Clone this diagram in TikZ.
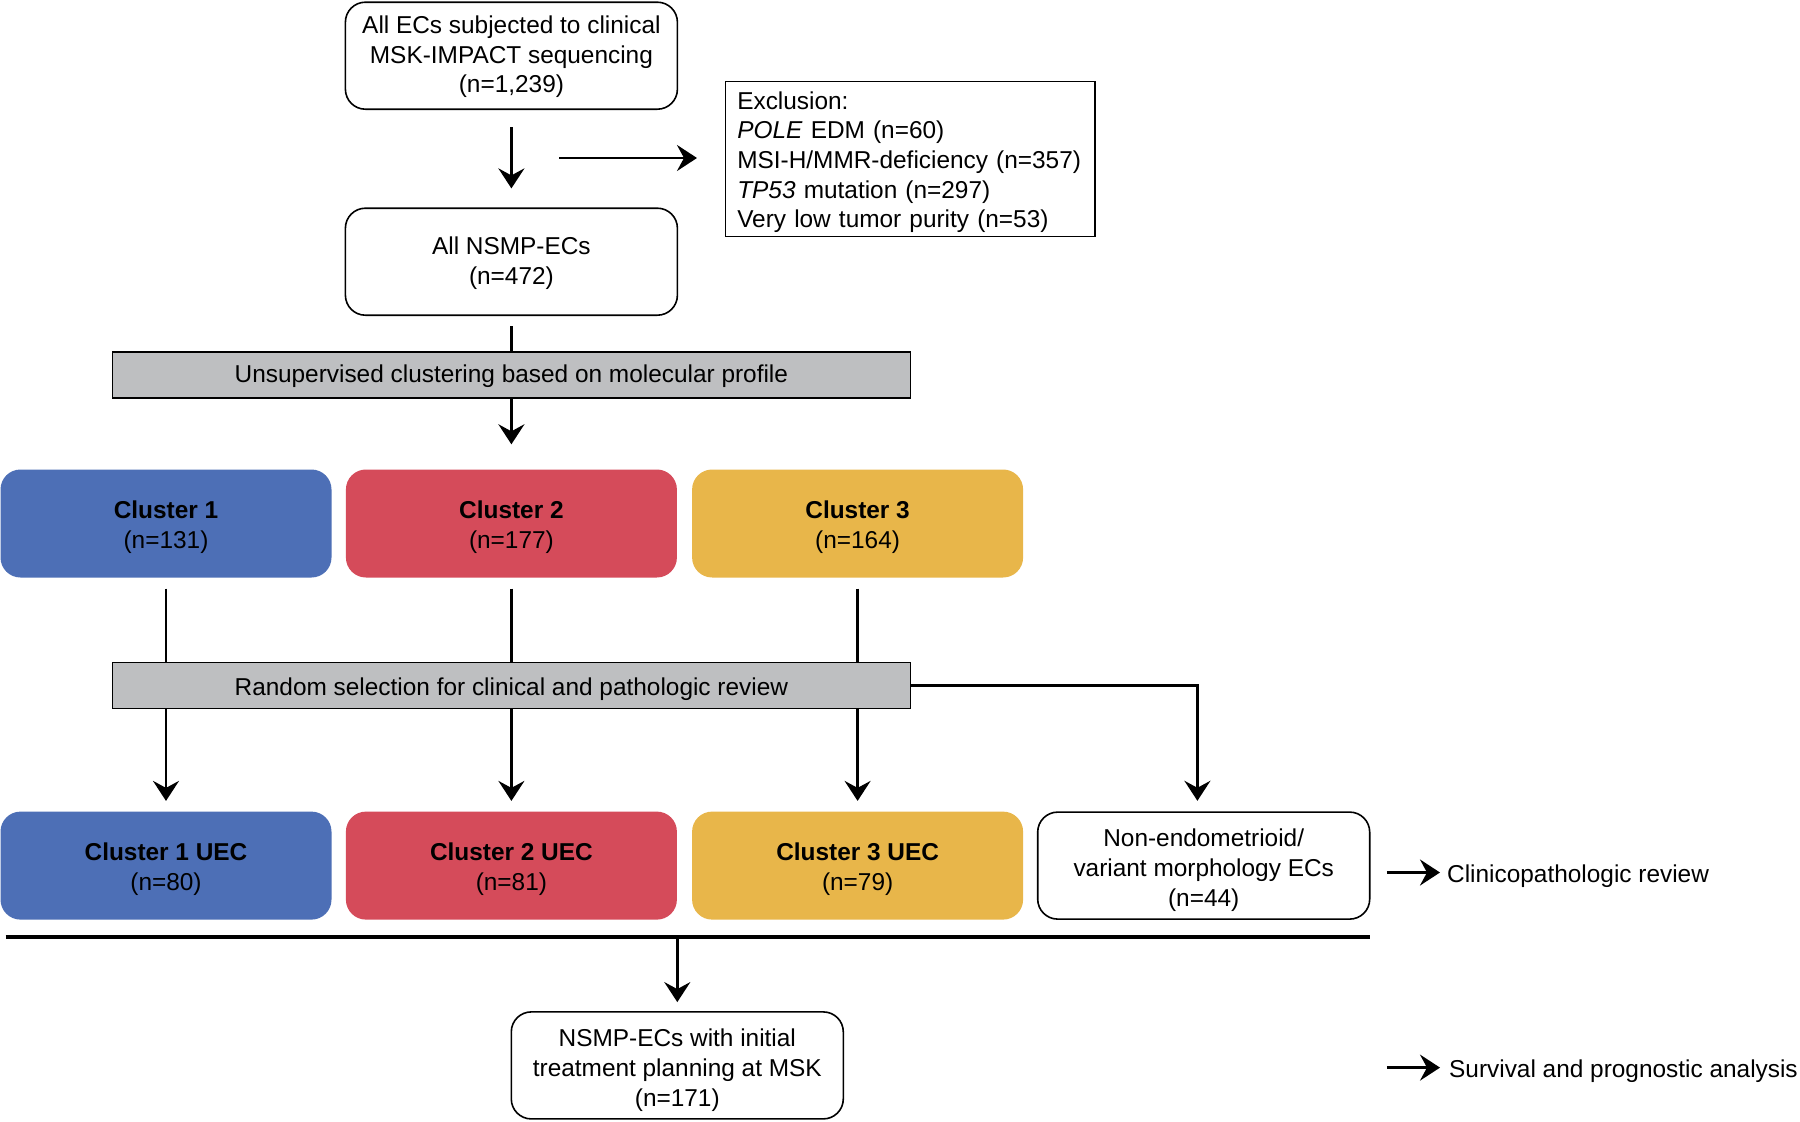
\documentclass[tikz,border=0pt]{standalone}
\usepackage{fontspec}
\setmainfont{Liberation Sans}
\usetikzlibrary{arrows.meta}
\definecolor{cblue}{HTML}{4D6FB6}
\definecolor{cred}{HTML}{D54B5A}
\definecolor{cyel}{HTML}{E8B64A}
\definecolor{cgray}{HTML}{BEBFC1}
\newcommand{\myup}[1]{\rule{0pt}{#1}}
\tikzset{
  every node/.style={font=\fontsize{24.4}{29.7}\selectfont, inner sep=0pt},
  wbox/.style={draw=black, line width=1.6pt, rounded corners=20pt, fill=white,
    minimum width=332pt, minimum height=107pt, align=center},
  cbox/.style={rounded corners=20pt, minimum width=331pt, minimum height=108pt, align=center},
  gbar/.style={draw=black, line width=1.4pt, fill=cgray, minimum width=798pt, minimum height=46pt},
  arr/.style={line width=2.6pt, -{Stealth[length=20pt,width=26pt,inset=7pt]}},
  ln/.style={line width=2.6pt},
}
\begin{document}
\begin{tikzpicture}[x=1pt,y=-1pt]
\useasboundingbox (0,0) rectangle (1800,1122);

\node[wbox] (top) at (511.4,55.7) {\myup{20pt}All ECs subjected to clinical\\MSK-IMPACT sequencing\\(n=1,239)};
\node[draw=black, line width=1.6pt, minimum width=369.5pt, minimum height=155pt,
      text width=346pt, align=left] (excl) at (910.3,159)
  {\myup{24pt}Exclusion:\\\textit{POLE} EDM (n=60)\\MSI-H/MMR-deficiency (n=357)\\\textit{TP53} mutation (n=297)\\Very low tumor purity (n=53)};
\node[wbox] (nsmp) at (511.4,261.7) {\myup{20pt}All NSMP-ECs\\(n=472)};
\node[gbar] (bar1) at (511.4,374.8) {\myup{20pt}Unsupervised clustering based on molecular profile};

\node[cbox, fill=cblue] (c1) at (166,523.5) {\myup{25pt}\textbf{Cluster 1}\\(n=131)};
\node[cbox, fill=cred] (c2) at (511.4,523.5) {\myup{25pt}\textbf{Cluster 2}\\(n=177)};
\node[cbox, fill=cyel] (c3) at (857.6,523.5) {\myup{25pt}\textbf{Cluster 3}\\(n=164)};

\node[gbar] (bar2) at (511.4,685.4) {\myup{25pt}Random selection for clinical and pathologic review};

\node[cbox, fill=cblue] (u1) at (166,865.6) {\myup{25pt}\textbf{Cluster 1 UEC}\\(n=80)};
\node[cbox, fill=cred] (u2) at (511.4,865.6) {\myup{25pt}\textbf{Cluster 2 UEC}\\(n=81)};
\node[cbox, fill=cyel] (u3) at (857.6,865.6) {\myup{25pt}\textbf{Cluster 3 UEC}\\(n=79)};
\node[wbox] (ne) at (1203.7,865.6) {\myup{27pt}Non-endometrioid/\\variant morphology ECs\\(n=44)};

\node[wbox] (fin) at (677.3,1065.4) {\myup{27pt}NSMP-ECs with initial\\treatment planning at MSK\\(n=171)};

% connectors
\draw[arr, shorten <=17pt, shorten >=19pt] (top.south) -- (nsmp.north);
\coordinate (ea) at (559,158);
\coordinate (eb) at (697,158);
\draw[arr] (ea) -- (eb);
\draw[ln, shorten <=10pt] (nsmp.south) -- (bar1.north);
\draw[arr, shorten >=25pt] (bar1.south) -- (c2.north);

\draw[ln, shorten <=11pt] (c1.south) -- (c1.south |- bar2.north);
\draw[ln, shorten <=11pt] (c2.south) -- (bar2.north);
\draw[ln, shorten <=11pt] (c3.south) -- (c3.south |- bar2.north);

\draw[arr, shorten >=10.5pt] (u1.north |- bar2.south) -- (u1.north);
\draw[arr, shorten >=10.5pt] (bar2.south) -- (u2.north);
\draw[arr, shorten >=10.5pt] (u3.north |- bar2.south) -- (u3.north);
\draw[arr, shorten >=10.5pt] (bar2.east) -| ([xshift=-6.3pt]ne.north);

\coordinate (hl) at (5.7,936.8);
\coordinate (hr) at (1369.6,936.8);
\draw[line width=3.6pt] (hl) -- (hr);
\coordinate (hm) at (677.3,936.8);
\draw[arr, shorten >=9pt] (hm) -- (fin.north);

\coordinate (r1a) at (1386.8,872.5);
\coordinate (r1b) at (1440,872.5);
\draw[arr] (r1a) -- (r1b);
\node[anchor=west] (t1) at (1447,876) {Clinicopathologic review};
\coordinate (r2a) at (1386.8,1067.6);
\coordinate (r2b) at (1440,1067.6);
\draw[arr] (r2a) -- (r2b);
\node[anchor=west] (t2) at (1449,1071) {Survival and prognostic analysis};
\end{tikzpicture}
\end{document}
